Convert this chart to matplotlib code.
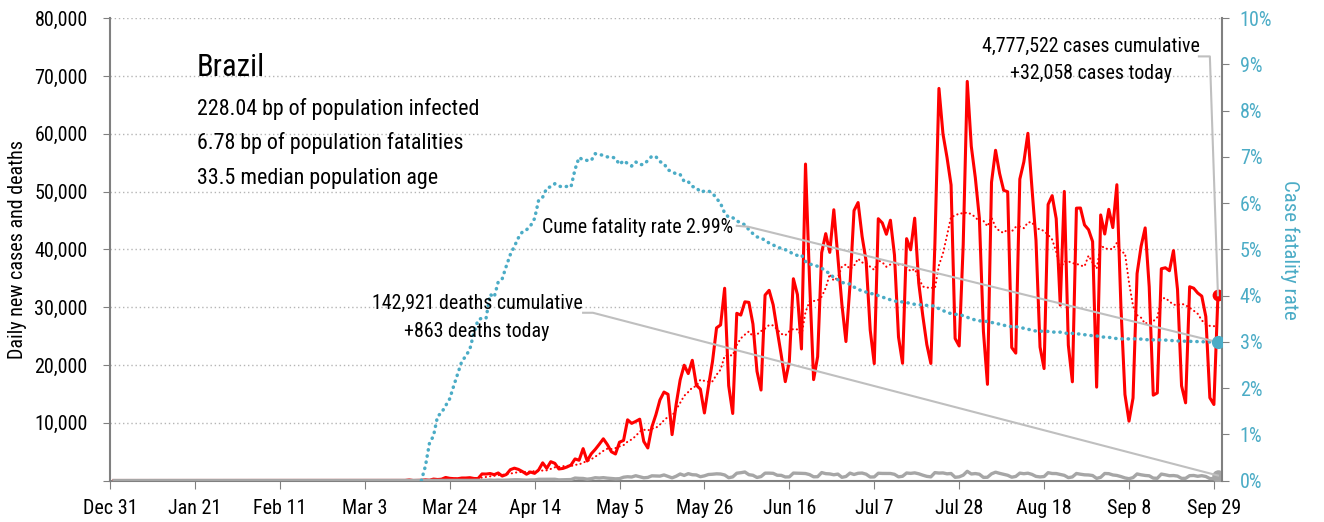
"""Brazil daily cases, deaths and case fatality rate, Dec 31 - Sep 29."""

import matplotlib
matplotlib.use("Agg")
import matplotlib.pyplot as plt
import numpy as np
import pandas as pd
from matplotlib.ticker import FuncFormatter

plt.rcParams["font.family"] = ["Roboto Condensed", "DejaVu Sans Condensed",
                               "DejaVu Sans"]
plt.rcParams["font.stretch"] = "condensed"

RED = "#ff0000"
BLUE = "#4bacc6"
GREY = "#a6a6a6"
LEADER = "#bfbfbf"
AXIS = "#808080"

# Daily reports from Dec 31 2019 to Sep 29 2020. The source stamps each report
# on the following day, so the series is drawn from Jan 1 to Sep 30.
cases_jan_feb = [0] * 57 + [1, 0, 0, 1]
cases_mar = [0, 0, 0, 2, 0, 9, 0, 7, 5, 6, 7, 14, 99, 0, 11, 38, 121, 51, 249, 172,
             228, 525, 378, 323, 307, 431, 432, 487, 352, 323, 1138]
cases_apr = [1119, 1208, 1012, 1304, 770, 1031, 1873, 2136, 1922, 1546,
             1089, 1465, 1238, 1832, 3058, 2105, 3257, 2976, 1996, 2089,
             2336, 2678, 3735, 3503, 5514, 3379, 4613, 5385, 6276, 7218]
cases_may = [6209, 4970, 4588, 6633, 6935, 10503, 9888, 10222, 10611, 6760,
             5632, 9258, 11385, 13944, 15305, 14919, 7938, 13140, 17408, 19951,
             18508, 20803, 16508, 15813, 11687, 16324, 20599, 26417, 26928, 33274,
             16409]
cases_jun = [11598, 28936, 28633, 30925, 30830, 27075, 18912, 15654, 32091, 32913,
             30412, 25982, 21704, 17110, 20647, 34918, 32188, 22765, 54771, 34666,
             17459, 21432, 39436, 42725, 39483, 46860, 38693, 30476, 24052, 33846]
cases_jul = [46712, 48105, 42223, 37923, 26051, 20229, 45305, 44571, 42619, 45048,
             39023, 24831, 20286, 41857, 39924, 45403, 34177, 28532, 23529, 20257,
             41008, 67860, 59961, 55891, 51147, 24578, 23284, 40816, 69074, 57837,
             52383]
cases_aug = [45392, 25800, 16641, 51603, 57152, 53139, 50230, 49970, 23010, 22048,
             52160, 55155, 60091, 50644, 41576, 23101, 19373, 47784, 49298, 45323,
             30355, 50032, 23421, 17078, 47134, 47161, 44235, 43412, 41350, 16158,
             45961]
cases_sep = [42659, 46934, 43773, 51194, 30168, 14893, 10273, 14279, 35816, 40557,
             43718, 33523, 14768, 15155, 36653, 36820, 36303, 39797, 33057, 16389,
             13439, 33536, 33281, 32445, 31911, 28378, 14318, 13155, 32058]

deaths_jan_feb = [0] * 61
deaths_mar = [0] * 16 + [1, 2, 3, 5, 4, 10, 9, 12, 13, 18, 15, 19, 25, 23, 42]
deaths_apr = [39, 84, 35, 86, 41, 78, 122, 133, 131, 107,
              67, 99, 105, 204, 204, 188, 217, 213, 108, 125,
              154, 165, 425, 373, 353, 229, 317, 480, 430, 493]
deaths_may = [406, 349, 290, 316, 571, 650, 602, 827, 639, 467,
              530, 808, 779, 759, 963, 700, 456, 735, 1130, 876,
              1188, 1001, 965, 653, 807, 1039, 1086, 1156, 1124, 956, 480]
deaths_jun = [623, 1262, 1349, 1473, 1005, 904, 525, 679, 1272, 1274,
              1239, 909, 892, 612, 627, 1282, 1269, 1238, 1206, 1022,
              641, 654, 1374, 1185, 1141, 990, 1109, 552, 692, 1280]
deaths_jul = [1038, 1252, 1290, 1091, 602, 620, 1254, 1223, 1220, 1214,
              1071, 631, 733, 1300, 1233, 1322, 1163, 921, 716, 632,
              1367, 1284, 1311, 1156, 1211, 555, 627, 921, 1595, 1129, 1199]
deaths_aug = [1088, 541, 561, 1154, 1437, 1237, 1079, 905, 572, 703,
              1274, 1175, 1262, 1060, 709, 620, 684, 1352, 1212, 1204,
              1054, 892, 494, 620, 1215, 1085, 984, 955, 859, 366, 553]
deaths_sep = [1215, 1184, 958, 874, 682, 447, 310, 504, 1136, 983,
              874, 814, 415, 381, 1113, 987, 829, 858, 761, 363,
              377, 836, 869, 729, 831, 695, 335, 317, 863]

TITLE = "Brazil"
FACTS = ["228.04 bp of population infected",
         "6.78 bp of population fatalities",
         "33.5 median population age"]
CASES_NOTE = ["4,777,522 cases cumulative", "+32,058 cases today"]
DEATHS_NOTE = ["142,921 deaths cumulative", "+863 deaths today"]
CFR_NOTE = "Cume fatality rate 2.99%"

cases = np.array(cases_jan_feb + cases_mar + cases_apr + cases_may + cases_jun
                 + cases_jul + cases_aug + cases_sep, dtype=float)
deaths = np.array(deaths_jan_feb + deaths_mar + deaths_apr + deaths_may + deaths_jun
                  + deaths_jul + deaths_aug + deaths_sep, dtype=float)
dates = pd.date_range("2020-01-01", periods=len(cases), freq="D")

avg7 = pd.Series(cases).rolling(7, min_periods=1).mean().values
cum_cases = np.cumsum(cases)
cum_deaths = np.cumsum(deaths)
cfr = np.full(len(cases), np.nan)
start = int(np.argmax(cum_deaths > 0)) - 1
cfr[start:] = cum_deaths[start:] / cum_cases[start:]

fig = plt.figure(figsize=(13.24, 5.22), dpi=100)
ax = fig.add_axes([0.0831, 0.0795, 0.8396, 0.8855])
ax2 = ax.twinx()

ax.plot(dates, cases, color=RED, lw=2.2, zorder=3)
ax.plot(dates, avg7, color=RED, lw=1.5, linestyle=(0, (0.1, 2.0)),
        dash_capstyle="round", zorder=3)
ax.plot(dates, deaths, color=GREY, lw=2.4, zorder=3)
ax.plot(dates[-1], cases[-1], "o", color=RED, ms=7.5, zorder=5)
ax.plot(dates[-1], deaths[-1], "o", color=GREY, ms=8, zorder=5)

ax2.plot(dates, cfr, color=BLUE, lw=2.5, linestyle=(0, (0.1, 1.7)),
         dash_capstyle="round")
ax2.plot(dates[-1], cfr[-1], "o", color=BLUE, ms=8.5, zorder=5)

# axes and ticks
ax.set_xlim(pd.Timestamp("2019-12-31"), pd.Timestamp("2020-09-30 22:00"))
ax.set_ylim(0, 80000)
ax2.set_ylim(0, 0.10)
ticks = pd.date_range("2019-12-31", "2020-09-29", freq="21D")
ax.set_xticks(ticks)
ax.set_xticklabels([f"{d:%b} {d.day}" for d in ticks], fontsize=14.5)
ax.set_yticks(np.arange(0, 80001, 10000))
ax.yaxis.set_major_formatter(FuncFormatter(lambda v, _: f"{v:,.0f}" if v else ""))
ax2.set_yticks(np.arange(0, 0.1001, 0.01))
ax2.yaxis.set_major_formatter(FuncFormatter(lambda v, _: f"{v * 100:.0f}%"))

ax.tick_params(axis="y", labelsize=14.5, length=5, color=AXIS, pad=11)
ax.tick_params(axis="x", length=6, color=AXIS, pad=7)
ax2.tick_params(axis="y", labelsize=14.5, length=5, color=AXIS, labelcolor=BLUE,
                pad=8)

ax.grid(axis="y", color="#b5b5b5", lw=1, linestyle=(0, (1, 2)))
ax.set_axisbelow(True)
for a in (ax, ax2):
    a.spines["top"].set_visible(False)
ax.spines["right"].set_visible(False)
ax2.spines["left"].set_visible(False)
ax2.spines["bottom"].set_visible(False)
for s in (ax.spines["left"], ax.spines["bottom"], ax2.spines["right"]):
    s.set_color(AXIS)
    s.set_linewidth(1.5)

ax.set_ylabel("Daily new cases and deaths", fontsize=14.5, labelpad=5)
ax2.set_ylabel("Case fatality rate", fontsize=15, color=BLUE, rotation=270,
               labelpad=20)

# title block
ax.text(0.078, 0.875, TITLE, transform=ax.transAxes, fontsize=22, va="baseline")
for i, line in enumerate(FACTS):
    ax.text(0.078, 0.791 - i * 0.0745, line, transform=ax.transAxes,
            fontsize=15.8, va="baseline")

# notes with leader lines (drawn on ax2 so they sit over the series)
to_ax = ax.transData
last = dates[-1]
note_size = 14.3

ax2.text(pd.Timestamp("2020-08-29 12:00"), 74100, CASES_NOTE[0], transform=to_ax,
         fontsize=note_size, ha="center", va="baseline")
ax2.text(pd.Timestamp("2020-08-29 12:00"), 69500, CASES_NOTE[1], transform=to_ax,
         fontsize=note_size, ha="center", va="baseline")
ax2.plot([pd.Timestamp("2020-09-25 07:00"), pd.Timestamp("2020-09-28"), last],
         [73400, 73400, cases[-1]], color=LEADER, lw=1.5, transform=to_ax,
         zorder=4)

ax2.text(pd.Timestamp("2020-03-30 19:00"), 29670, DEATHS_NOTE[0], transform=to_ax,
         fontsize=note_size, ha="center", va="baseline")
ax2.text(pd.Timestamp("2020-03-30 19:00"), 24870, DEATHS_NOTE[1], transform=to_ax,
         fontsize=note_size, ha="center", va="baseline")
ax2.plot([pd.Timestamp("2020-04-26"), pd.Timestamp("2020-04-28 10:00"), last],
         [29030, 29030, deaths[-1]], color=LEADER, lw=1.5, transform=to_ax,
         zorder=4)

ax2.text(pd.Timestamp("2020-06-02"), 0.0547, CFR_NOTE, fontsize=note_size,
         ha="right", va="center")
ax2.plot([pd.Timestamp("2020-06-03"), pd.Timestamp("2020-06-05 20:00"), last],
         [0.0551, 0.0549, cfr[-1]], color=LEADER, lw=1.5, zorder=4)

fig.savefig("out.png", dpi=100)
